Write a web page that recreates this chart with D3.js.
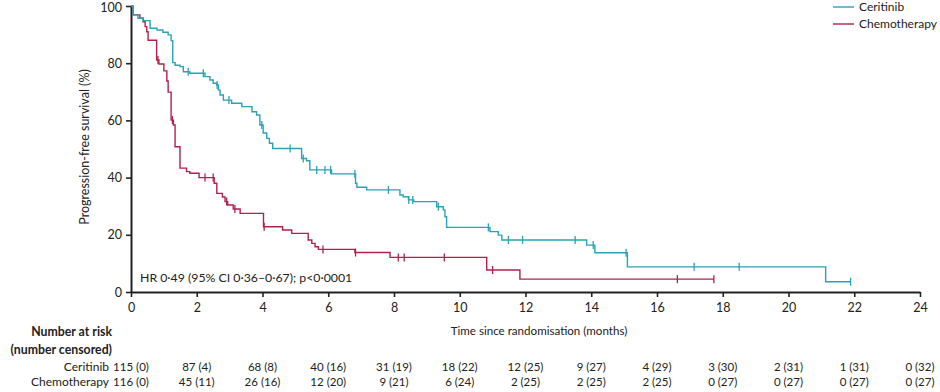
<!DOCTYPE html>
<html>
<head>
<meta charset="utf-8">
<script src="https://cdn.jsdelivr.net/npm/d3@7"></script>
<style>
  html, body { margin: 0; padding: 0; background: #fff; }
  svg { display: block; }
  text { font-family: Lato, "Open Sans", sans-serif; fill: #222; }
</style>
</head>
<body>
<svg id="chart" width="940" height="392"></svg>
<script>
// ---- Data ----
const seriesNames = ["Ceritinib", "Chemotherapy"];
// step events: [time (months), survival (%) after the step]
const ceritinibSteps = [
  [0.06,96.9],[0.21,95.7],[0.37,94.9],[0.58,92.2],[0.79,91.6],[0.97,90.8],[1.13,89.9],
  [1.22,87.9],[1.27,80.2],[1.34,79.3],[1.49,78.8],[1.59,77.0],[1.79,76.5],[2.25,75.3],
  [2.40,74.1],[2.50,73.0],[2.61,72.4],[2.66,70.6],[2.71,68.9],[2.81,67.1],[3.06,66.0],
  [3.37,64.8],[3.68,63.0],[3.82,61.9],[3.92,58.4],[4.02,55.6],[4.13,53.7],[4.21,52.0],
  [4.31,50.2],[5.19,46.7],[5.34,45.9],[5.44,42.7],[6.10,41.3],[6.83,38.0],[6.87,36.6],
  [7.17,35.7],[8.18,33.9],[8.28,33.3],[8.44,32.2],[8.60,31.6],[9.30,29.8],[9.50,28.7],
  [9.55,26.3],[9.60,22.6],[10.92,21.1],[11.17,19.9],[11.28,18.2],[13.86,16.4],[14.11,13.7],
  [15.10,8.8],[21.13,3.6]
];
const ceritinibEnd = 21.89;
const ceritinibCensored = [1.74,2.20,2.62,2.98,3.98,4.84,5.24,5.65,5.90,6.07,6.81,7.83,8.45,8.57,
  9.35,10.87,11.48,11.91,13.51,14.06,15.06,17.13,18.50,21.89];

const chemoSteps = [
  [0.06,96.9],[0.27,95.7],[0.37,94.5],[0.43,92.8],[0.48,91.0],[0.52,88.0],[0.78,81.1],
  [0.85,79.7],[1.00,77.3],[1.09,73.8],[1.13,69.9],[1.22,60.1],[1.29,58.4],[1.34,50.8],
  [1.49,43.3],[1.69,42.1],[1.79,41.5],[2.07,40.0],[2.53,38.0],[2.61,34.5],[2.78,33.2],
  [2.86,31.6],[2.94,30.4],[3.11,29.0],[3.32,27.5],[4.03,22.8],[4.61,21.7],[4.89,20.5],
  [5.39,18.2],[5.50,17.0],[5.60,15.8],[5.70,14.9],[6.81,13.8],[7.88,12.1],[10.82,7.7],
  [11.83,4.5]
];
const chemoEnd = 17.73;
const chemoCensored = [0.82,1.26,2.25,2.50,2.91,3.16,4.05,5.84,6.83,8.13,8.31,9.53,11.00,16.62,17.73];

const xTicks = [0,2,4,6,8,10,12,14,16,18,20,22,24];
const yTicks = [0,20,40,60,80,100];
const riskCeritinib = ["115 (0)","87 (4)","68 (8)","40 (16)","31 (19)","18 (22)","12 (25)","9 (27)","4 (29)","3 (30)","2 (31)","1 (31)","0 (32)"];
const riskChemo = ["116 (0)","45 (11)","26 (16)","12 (20)","9 (21)","6 (24)","2 (25)","2 (25)","2 (25)","0 (27)","0 (27)","0 (27)","0 (27)"];
const hrText = "HR 0·49 (95% CI 0·36–0·67); p<0·0001";

// ---- Drawing ----
const colors = ["#2aa2b7", "#b3204b"];
const svg = d3.select("#chart");
const x = d3.scaleLinear().domain([0,24]).range([131,920]);
const y = d3.scaleLinear().domain([0,100]).range([292,6]);

function survAt(steps, t) {
  let s = 100;
  for (const [tt, v] of steps) { if (tt <= t + 1e-9) s = v; else break; }
  return s;
}

// axes
const yAxis = svg.append("g").attr("transform", `translate(${x(0)},0)`)
  .call(d3.axisLeft(y).tickValues(yTicks).tickSize(5).tickSizeOuter(0).tickPadding(4));
const xAxis = svg.append("g").attr("transform", `translate(0,${y(0)})`)
  .call(d3.axisBottom(x).tickValues(xTicks).tickSize(5).tickSizeOuter(0).tickPadding(6));
[yAxis, xAxis].forEach(g => {
  g.select(".domain").attr("stroke", "#222").attr("stroke-width", 2);
  g.selectAll(".tick line").attr("stroke", "#222").attr("stroke-width", 1.6);
  g.selectAll(".tick text").style("font-size", "12.5px").attr("fill", "#222")
    .style("font-family", "Lato, 'Open Sans', sans-serif");
});
yAxis.selectAll(".tick text").filter(d => d === 100).attr("dy", "0.40em");

// y label
svg.append("text")
  .attr("transform", `translate(89,147) rotate(-90)`)
  .attr("text-anchor", "middle")
  .style("font-size", "12.5px")
  .text("Progression-free survival (%)");

// x label
svg.append("text")
  .attr("x", 539).attr("y", 335)
  .attr("text-anchor", "middle")
  .style("font-size", "11.6px")
  .text("Time since randomisation (months)");

// curves
const line = d3.line().x(d => x(d[0])).y(d => y(d[1])).curve(d3.curveStepAfter);
const series = [
  {steps: ceritinibSteps, end: ceritinibEnd, cens: ceritinibCensored, color: colors[0]},
  {steps: chemoSteps, end: chemoEnd, cens: chemoCensored, color: colors[1]}
];
series.slice().reverse().forEach(s => {
  const pts = [[0,100], ...s.steps, [s.end, s.steps[s.steps.length-1][1]]];
  svg.append("path").datum(pts)
    .attr("fill", "none").attr("stroke", s.color).attr("stroke-width", 1.4)
    .attr("d", line);
  svg.append("g").selectAll("line").data(s.cens).join("line")
    .attr("x1", d => x(d)).attr("x2", d => x(d))
    .attr("y1", d => y(survAt(s.steps, d)) - 4)
    .attr("y2", d => y(survAt(s.steps, d)) + 4)
    .attr("stroke", s.color).attr("stroke-width", 1.3);
});

// HR text
svg.append("text").attr("x", 140).attr("y", 282)
  .style("font-size", "12.3px").text(hrText);

// legend
const legend = svg.append("g");
seriesNames.forEach((n, i) => {
  const ly = 7 + i * 17;
  legend.append("line").attr("x1", 833).attr("x2", 854).attr("y1", ly).attr("y2", ly)
    .attr("stroke", colors[i]).attr("stroke-width", 1.4);
  legend.append("text").attr("x", 859).attr("y", ly + 4.3)
    .style("font-size", "12px").text(n);
});

// risk table
svg.append("text").attr("x", 112).attr("y", 336).attr("text-anchor", "end")
  .style("font-size", "12.3px").style("font-weight", "bold").text("Number at risk");
svg.append("text").attr("x", 112).attr("y", 354).attr("text-anchor", "end")
  .style("font-size", "12.3px").style("font-weight", "bold").text("(number censored)");
[[seriesNames[0], riskCeritinib, 371], [seriesNames[1], riskChemo, 385.5]].forEach(([name, vals, ry]) => {
  svg.append("text").attr("x", 109).attr("y", ry).attr("text-anchor", "end")
    .style("font-size", "12px").text(name);
  svg.append("g").selectAll("text").data(vals).join("text")
    .attr("x", (d, i) => x(xTicks[i]))
    .attr("y", ry).attr("text-anchor", "middle")
    .style("font-size", "11.5px").text(d => d);
});
</script>
</body>
</html>
